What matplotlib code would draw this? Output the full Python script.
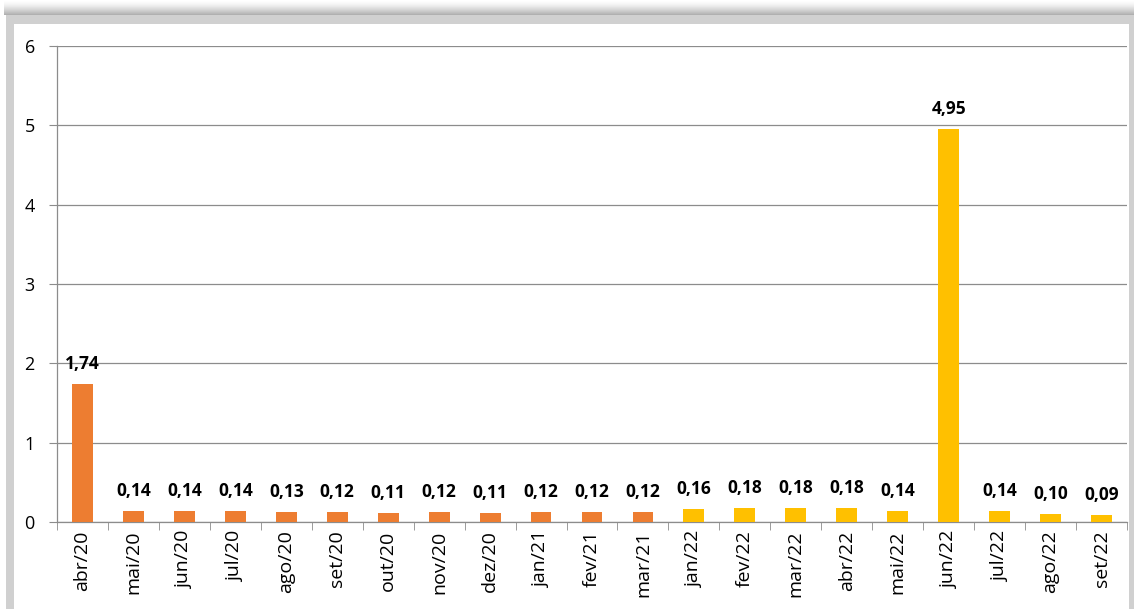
import matplotlib
matplotlib.use("Agg")
import matplotlib.pyplot as plt
from matplotlib.patches import Rectangle
import numpy as np

# data
months = ["abr/20", "mai/20", "jun/20", "jul/20", "ago/20", "set/20", "out/20",
          "nov/20", "dez/20", "jan/21", "fev/21", "mar/21", "jan/22", "fev/22",
          "mar/22", "abr/22", "mai/22", "jun/22", "jul/22", "ago/22", "set/22"]
values = [1.74, 0.14, 0.14, 0.14, 0.13, 0.12, 0.11, 0.12, 0.11, 0.12, 0.12,
          0.12, 0.16, 0.18, 0.18, 0.18, 0.14, 4.95, 0.14, 0.10, 0.09]
n_orange = 12  # first 12 months in orange, rest in yellow

W, H = 1134, 609
fig = plt.figure(figsize=(W / 100, H / 100), dpi=100)
fig.patch.set_facecolor("white")

def px_rect(x0, y0, x1, y1, color, alpha=1.0, z=-10):
    fig.patches.append(Rectangle((x0 / W, 1 - y1 / H), (x1 - x0) / W, (y1 - y0) / H,
                                 transform=fig.transFigure, facecolor=color,
                                 edgecolor="none", alpha=alpha, zorder=z))

# frame with soft shadow on top
for i in range(14):
    px_rect(4, 15 - i - 1, W, 15 - i, "#707070", alpha=0.55 * (1 - i / 14) ** 1.5)
px_rect(6, 15, W, H, "#d0d0d0")
px_rect(14, 24, 1129, H, "white")

ax = fig.add_axes([57 / W, 1 - 522 / H, (1127 - 57) / W, (522 - 46) / H])
ax.set_facecolor("none")
ax.set_zorder(5)

x = np.arange(len(months))
colors = ["#ED7D31"] * n_orange + ["#FFC000"] * (len(months) - n_orange)
ax.bar(x, values, width=0.41, color=colors, zorder=3)

for xi, v in zip(x, values):
    ax.annotate(f"{v:.2f}".replace(".", ","), (xi, v), xytext=(0, 8),
                textcoords="offset points", ha="center", va="bottom",
                fontsize=12.5, fontweight="bold", family="Open Sans", zorder=4)

ax.set_xlim(-0.5, len(months) - 0.5)
ax.set_ylim(0, 6)
ax.set_yticks(range(7))
ax.grid(axis="y", color="#8c8c8c", linewidth=0.9, zorder=0)
ax.set_axisbelow(True)

ax.set_xticks(x)
ax.set_xticklabels(months, rotation=90, fontsize=14, family="Open Sans")
ax.set_xticks(np.arange(-0.5, len(months), 1), minor=True)
ax.tick_params(axis="x", which="major", length=0, pad=6)
ax.tick_params(axis="x", which="minor", length=6, color="#8c8c8c", direction="out")
ax.tick_params(axis="y", length=6, color="#8c8c8c", labelsize=13, pad=10)
for lab in ax.get_yticklabels():
    lab.set_family("Open Sans")

for s in ["top", "right"]:
    ax.spines[s].set_visible(False)
for s in ["left", "bottom"]:
    ax.spines[s].set_color("#8c8c8c")
    ax.spines[s].set_linewidth(0.9)

fig.savefig("out.png", dpi=100)
